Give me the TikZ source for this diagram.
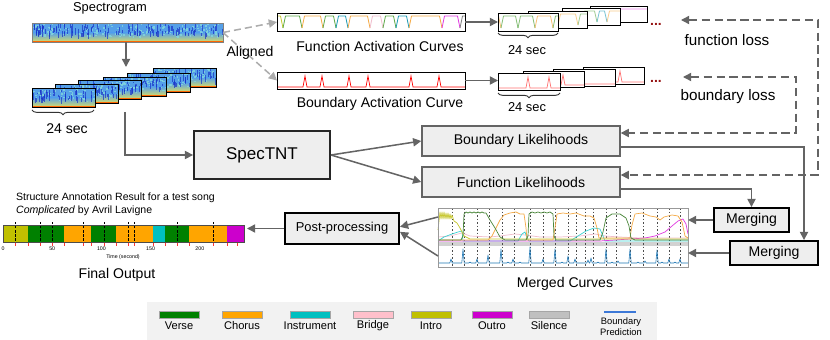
\documentclass[tikz,border=0pt]{standalone}
\usepackage{fontspec}
\setmainfont{Liberation Sans}
\usetikzlibrary{arrows.meta,decorations.pathreplacing}

\definecolor{boxfill}{RGB}{238,238,238}
\definecolor{flowgray}{RGB}{100,100,100}
\definecolor{specblue}{RGB}{85,160,232}
\definecolor{speclight}{RGB}{130,215,220}
\definecolor{specdark}{RGB}{25,50,200}
\definecolor{specyel}{RGB}{215,222,105}
\definecolor{fgreen}{RGB}{95,170,75}
\definecolor{forange}{RGB}{245,170,70}
\definecolor{fteal}{RGB}{30,155,180}
\definecolor{fpink}{RGB}{240,190,205}
\definecolor{fmag}{RGB}{225,60,225}
\definecolor{fcyan}{RGB}{60,210,210}
\definecolor{folive}{RGB}{200,200,50}
\definecolor{bblue}{RGB}{31,119,180}
\definecolor{darkred}{RGB}{150,20,20}
\definecolor{cverse}{RGB}{0,128,0}
\definecolor{cchorus}{RGB}{255,165,0}
\definecolor{cinstr}{RGB}{0,192,192}
\definecolor{cbridge}{RGB}{255,192,203}
\definecolor{cintro}{RGB}{192,192,0}
\definecolor{coutro}{RGB}{204,0,204}
\definecolor{csilence}{RGB}{192,192,192}
\definecolor{cbound}{RGB}{60,120,215}
\definecolor{legendbg}{RGB}{242,242,242}

\newcommand{\specpatch}[6][gray]{
  \fill[specblue] (#2,#3) rectangle ++(#4,#5);
  \shade[top color=specblue, bottom color=specyel] (#2,#3+0.5*#5) rectangle (#2+#4,#3+#5);
  \begin{scope}
    \clip (#2,#3) rectangle ++(#4,#5);
    \pgfmathsetseed{#6}
    \pgfmathtruncatemacro{\nstreak}{#4/1.3}
    \foreach \k in {1,...,\nstreak}{
      \pgfmathsetmacro{\spx}{#2+rnd*#4}
      \pgfmathsetmacro{\spy}{#3+rnd*0.7*#5}
      \fill[speclight,opacity=.8] (\spx,\spy) rectangle ++(1.6,1.6);
    }
    \foreach \k in {1,...,\nstreak}{
      \pgfmathsetmacro{\spx}{#2+rnd*#4}
      \pgfmathsetmacro{\spy}{#3+rnd*0.55*#5}
      \pgfmathsetmacro{\spl}{(0.08+0.3*rnd)*#5}
      \draw[specdark,line width=.45pt,opacity=.7] (\spx,\spy) -- ++(0,\spl);
    }
    \draw[orange!80!red,line width=.6pt] (#2,#3+#5-.6) -- ++(#4,0);
  \end{scope}
  \draw[#1,line width=.6pt] (#2,#3) rectangle ++(#4,#5);
}
\newcommand{\fpanel}[6][1]{
  \fill[white] (#2,#3) rectangle ++(#4,#5);
  \begin{scope}
    \clip (#2,#3) rectangle ++(#4,#5);
    \foreach \sfrom/\sto/\scol in {#6}{
      \draw[\scol,opacity=#1,line width=.7pt,line join=round] (#2+\sfrom,#3+#5-3) -- (#2+\sfrom+2.5,#3+3) -- (#2+\sto-2.5,#3+3) -- (#2+\sto,#3+#5-3);
    }
  \end{scope}
  \draw[line width=.6pt] (#2,#3) rectangle ++(#4,#5);
}
\newcommand{\bpanel}[6][red]{
  \fill[white] (#2,#3) rectangle ++(#4,#5);
  \draw[#1,line width=.6pt] (#2,#3+#5-2) \foreach \pk in {#6}{ -- (#2+\pk-2,#3+#5-2) -- (#2+\pk,#3+4) -- (#2+\pk+2,#3+#5-2)} -- (#2+#4,#3+#5-2);
  \draw[line width=.6pt] (#2,#3) rectangle ++(#4,#5);
}

\tikzset{
  flow/.style={draw=flowgray,line width=1.3pt,->},
  loss/.style={draw=flowgray,line width=1.3pt,dash pattern=on 7pt off 4pt,<->},
  aligned/.style={draw=gray!65,line width=1.3pt,dash pattern=on 6pt off 3.5pt,->},
  frame/.style={inner sep=0pt,outer sep=0pt},
  lbltext/.style={font=\fontsize{12}{14}\selectfont},
  likebox/.style={draw=flowgray,fill=boxfill,line width=1.2pt,inner sep=0pt,font=\fontsize{12}{14}\selectfont},
  procbox/.style={draw=black,fill=boxfill,line width=1.6pt,inner sep=0pt,font=\fontsize{12}{14}\selectfont},
  secbrace/.style={decorate,decoration={brace,amplitude=4pt},draw=gray!40!black,line width=.8pt},
  curve/.style={line width=.6pt,line join=round},
  legendtext/.style={font=\fontsize{9.5}{11}\selectfont},
  tinytext/.style={font=\fontsize{4.5}{5}\selectfont,inner sep=0pt},
}

\begin{document}
\begin{tikzpicture}[x=0.03cm,y=-0.03cm,>={Triangle[length=7pt,width=7pt]}]
\useasboundingbox (0,0) rectangle (830,340);

% spectrogram
\node[font=\fontsize{11}{13}\selectfont] (spgtitle) at (110,8) {Spectrogram};
\specpatch{32}{23}{191}{19}{3}
\node[frame,minimum width=5.73cm,minimum height=.57cm] (spg) at (127.5,32.5) {};
\foreach \cx/\cy/\sd in {153/68/11,127/73/12,103/77/13,78/80/14,55/84/15,32/88/16}{
  \specpatch[black]{\cx}{\cy}{63}{19}{\sd}
}
\coordinate (stacktop) at (126,67);
\coordinate (stackfoot) at (125,112);
\draw[secbrace] (94,110) -- (32,110);
\node[lbltext] (sec0) at (67,129) {24 sec};
\draw[flow] (spg.south -| stacktop) -- (stacktop);

% activation curves
\fpanel{277}{13}{188}{18}{-8/6/folive,6/25/fgreen,25/46/forange,46/59/fgreen,59/71/fteal,71/93/forange,93/106/fpink,106/119/fgreen,119/132/fteal,132/165/forange,165/183/fmag,183/196/gray}
\node[frame,minimum width=5.64cm,minimum height=.54cm] (fact) at (371,22) {};
\node[lbltext] (factlbl) at (380,46) {Function Activation Curves};
\bpanel{277}{72}{188}{17}{28,45,72,91,134,162}
\node[frame,minimum width=5.64cm,minimum height=.51cm] (bact) at (371,80.5) {};
\node[lbltext] (bactlbl) at (380,104) {Boundary Activation Curve};
\draw[aligned] (spg.east) -- (fact.west);
\draw[aligned] (spg.east) -- (bact.west);
\node[lbltext] (alignedlbl) at (250,53) {Aligned};

% 24 sec chunks of the curves
\fpanel[.6]{590}{6}{57}{16}{-5/8/fteal,8/22/fpink,22/62/fmag}
\fpanel[.6]{562}{8}{58}{17}{-6/5/fpink,5/20/fpink,20/35/fgreen,35/45/fteal,45/62/forange}
\fpanel[.6]{528}{11}{59}{17}{-6/10/forange,10/30/fgreen,30/50/forange,50/65/fgreen}
\fpanel[.75]{498}{13}{60}{18}{-6/3/forange,3/20/fgreen,20/37/fgreen,37/55/forange,55/66/fgreen}
\node[frame,minimum width=1.8cm,minimum height=.54cm] (fchunk) at (528,22) {};
\draw[secbrace] (558,33) -- (498,33);
\node[font=\fontsize{11}{13}\selectfont] (sec1) at (527,50) {24 sec};
\node[font=\fontsize{12}{12}\selectfont\bfseries,text=darkred] (fdots) at (656,24) {...};
\bpanel[red!55]{583}{67}{61}{17}{37}
\bpanel[red!55]{553}{69}{62}{17}{27}
\bpanel[red!55]{523}{71}{61}{16}{15,40}
\bpanel[red!55]{498}{73}{62}{17}{30,51}
\node[frame,minimum width=1.86cm,minimum height=.51cm] (bchunk) at (529,81.5) {};
\draw[secbrace] (560,93) -- (498,93);
\node[font=\fontsize{11}{13}\selectfont] (sec2) at (527,107) {24 sec};
\node[font=\fontsize{12}{12}\selectfont\bfseries,text=darkred] (bdots) at (656,81) {...};
\draw[flow] (fact.east) -- (fchunk.west);
\draw[flow] (bact.east) -- (bact.east -| bchunk.west);
\node[font=\fontsize{13}{15}\selectfont] (flosslbl) at (727,40) {function loss};
\node[font=\fontsize{13}{15}\selectfont] (blosslbl) at (728,97) {boundary loss};

% model
\node[procbox,draw=black!85,minimum width=4.08cm,minimum height=1.44cm,font=\fontsize{14.5}{17}\selectfont] (spectnt) at (262,155) {SpecTNT};
\draw[flow] (stackfoot) |- (spectnt.west);
\node[likebox,minimum width=5.94cm,minimum height=.9cm] (blike) at (521,141) {Boundary Likelihoods};
\node[likebox,minimum width=5.94cm,minimum height=.9cm] (flike) at (521,182) {Function Likelihoods};
\draw[flow] (spectnt.east) -- (blike.west);
\draw[flow] (spectnt.east) -- (flike.west);
\coordinate (floss) at (681,20);
\coordinate (fturn) at (818,20);
\coordinate (bloss) at (683,77);
\coordinate (bturn) at (796,77);
\draw[loss] (floss) -- (fturn) |- ([yshift=.21cm]flike.east);
\draw[loss] (bloss) -- (bturn) |- ([yshift=.24cm]blike.east);

% merging
\node[procbox,minimum width=2.25cm,minimum height=.72cm] (merge1) at (751.5,220) {Merging};
\node[procbox,minimum width=2.64cm,minimum height=.72cm] (merge2) at (774,253) {Merging};
\draw[flow] ([yshift=-.21cm]flike.east) -| (merge1.north);
\draw[flow] ([yshift=-.18cm]blike.east) -| ([xshift=.9cm]merge2.north);

% merged curves
\fill[white] (438,208) rectangle (688,267);
\fill[gray!35] (438,242) rectangle (688,246);
\foreach \gx in {452,464,477,489,502,514,530,543,555,568,576,585,593,606,616,630,643,657,669,680}{
  \draw[gray!60!black,line width=.4pt,dash pattern=on 1.5pt off 1.5pt] (\gx,208) -- (\gx,267);
}
\draw[fpink,curve] (438,237) -- (450,236) -- (462,233) -- (470,236) -- (490,237) -- (500,236) -- (515,234) -- (525,235) -- (540,237) -- (560,237) -- (580,236) -- (595,234) -- (605,236) -- (620,237) -- (640,238) -- (688,238);
\draw[fcyan,curve] (438,241) -- (444,237) -- (452,234) -- (458,232) -- (462,231) -- (463,241) -- (518,241) -- (522,234) -- (525,232) -- (527,238) -- (529,241) -- (570,241) -- (578,236) -- (586,231) -- (594,228) -- (600,229) -- (603,236) -- (605,241) -- (688,241);
\draw[fmag,curve] (438,241) -- (600,241) -- (615,240) -- (630,239) -- (645,238) -- (655,236) -- (665,232) -- (672,226) -- (678,221) -- (683,219) -- (686,224) -- (688,234);
\draw[folive,curve] (438,230) -- (440,212) -- (441,219) -- (442,212) -- (443,219) -- (444,212) -- (445,219) -- (446,213) -- (447,219) -- (448,213) -- (449,219) -- (450,214) -- (451,219) -- (452,215) -- (454,221) -- (457,223) -- (460,228) -- (464,236) -- (470,239) -- (688,239);
\draw[forange,curve] (438,240) -- (488,240) -- (492,236) -- (496,228) -- (500,220) -- (504,215) -- (510,213) -- (516,212) -- (520,214) -- (524,214) -- (526,228) -- (527,240) -- (553,240) -- (555,228) -- (557,214) -- (563,213) -- (570,214) -- (576,213) -- (584,216) -- (590,216) -- (594,218) -- (597,228) -- (599,238) -- (630,238) -- (632,225) -- (635,214) -- (642,213) -- (650,216) -- (656,217) -- (660,220) -- (664,217) -- (672,215) -- (678,216) -- (682,222) -- (685,236) -- (688,238);
\draw[fgreen!80!black,curve] (438,240) -- (461,240) -- (463,236) -- (464,214) -- (466,212) -- (468,213) -- (470,212) -- (472,213) -- (474,212) -- (476,213) -- (478,212) -- (480,213) -- (482,212) -- (484,213) -- (486,213) -- (490,220) -- (495,228) -- (500,237) -- (505,240) -- (526,240) -- (528,236) -- (529,214) -- (532,212) -- (535,213) -- (538,212) -- (541,213) -- (544,212) -- (547,213) -- (550,212) -- (553,214) -- (554,236) -- (556,240) -- (600,240) -- (603,232) -- (606,218) -- (612,214) -- (620,214) -- (626,218) -- (629,226) -- (631,238) -- (635,240) -- (688,240);
\draw[bblue,line width=.5pt,line join=round] (438,263) \foreach \pk/\ph in {451/259,463/249,470/262,477/259,488/255,501/249,508/262,513/259,520/262,530/247,543/259,555/249,562/262,568/256,575/259,588/260,591/258,598/262,606/249,612/262,618/261,630/249,638/262,645/261,657/250,662/262,669/259,675/262,680/259}{ -- (\pk-1.2,263) -- (\pk,\ph) -- (\pk+1.2,263)} -- (688,263);
\draw[gray!80,line width=.6pt] (438,208) rectangle (688,267);
\node[frame,minimum width=7.5cm,minimum height=1.77cm] (merged) at (563,237.5) {};
\node[lbltext] (mergedlbl) at (565,284) {Merged Curves};
\draw[flow] (merge1.west) -- (merge1.west -| merged.east);
\draw[flow] (merge2.west) -- (merge2.west -| merged.east);

% post-processing and final output
\node[procbox,minimum width=3.42cm,minimum height=.93cm,font=\fontsize{11}{13}\selectfont] (post) at (342,228.5) {Post-processing};
\draw[flow] ([yshift=.615cm]merged.west) -- ([yshift=.05cm]post.east);
\draw[flow] ([yshift=-.555cm]merged.west) -- ([yshift=-.1cm]post.east);
\foreach \sfrom/\sto/\scol in {3/28/cintro,28/64/cverse,64/91/cchorus,91/116/cverse,116/153/cchorus,153/165/cinstr,165/189/cverse,189/227/cchorus,227/244/coutro}{
  \fill[\scol] (\sfrom,225) rectangle (\sto,242);
}
\foreach \dx in {15,40,52,83,104,128,134,177,213}{
  \draw[black,line width=.5pt,dash pattern=on 2pt off 1.5pt] (\dx,222) -- (\dx,242);
}
\foreach \dx in {15,28,40,52,64,83,91,104,116,128,134,153,165,177,189,213,227,237}{
  \draw[red!80,line width=.4pt] (\dx,243) -- (\dx,245.5);
}
\draw[gray!60!black,line width=.5pt] (3,225) rectangle (244,242);
\node[frame,minimum width=7.23cm,minimum height=.51cm] (finalbar) at (123.5,233.5) {};
\foreach \tk [count=\ti] in {0,50,100,150,200}{
  \node[tinytext] (tick\ti) at (3+\tk*.984,249) {\tk};
}
\node[tinytext] (timelbl) at (123,257) {Time (second)};
\node[font=\fontsize{9}{11}\selectfont,anchor=west] (songtitle) at (12,198) {Structure Annotation Result for a test song};
\node[font=\fontsize{9}{11}\selectfont,anchor=west] (songname) at (12,211) {\textit{Complicated} by Avril Lavigne};
\node[lbltext] (finallbl) at (117,275) {Final Output};
\draw[flow,shorten >=.09cm] (post.west) -- (post.west -| finalbar.east);

% legend
\fill[legendbg] (147,302) rectangle (657,340);
\foreach \scol/\lname/\lx in {cverse/Verse/179,cchorus/Chorus/242,cinstr/Instrument/310,cbridge/Bridge/373,cintro/Intro/431,coutro/Outro/492,csilence/Silence/549}{
  \draw[gray!70,line width=.4pt,fill=\scol] (\lx-20,311) rectangle (\lx+20,318);
  \node[legendtext] (leg-\lname) at (\lx,326) {\lname};
}
\draw[cbound,line width=1.3pt] (604,312) -- (636,312);
\node[font=\fontsize{8}{9.5}\selectfont,align=center] (leg-bound) at (621,327) {Boundary\\Prediction};
\end{tikzpicture}
\end{document}
